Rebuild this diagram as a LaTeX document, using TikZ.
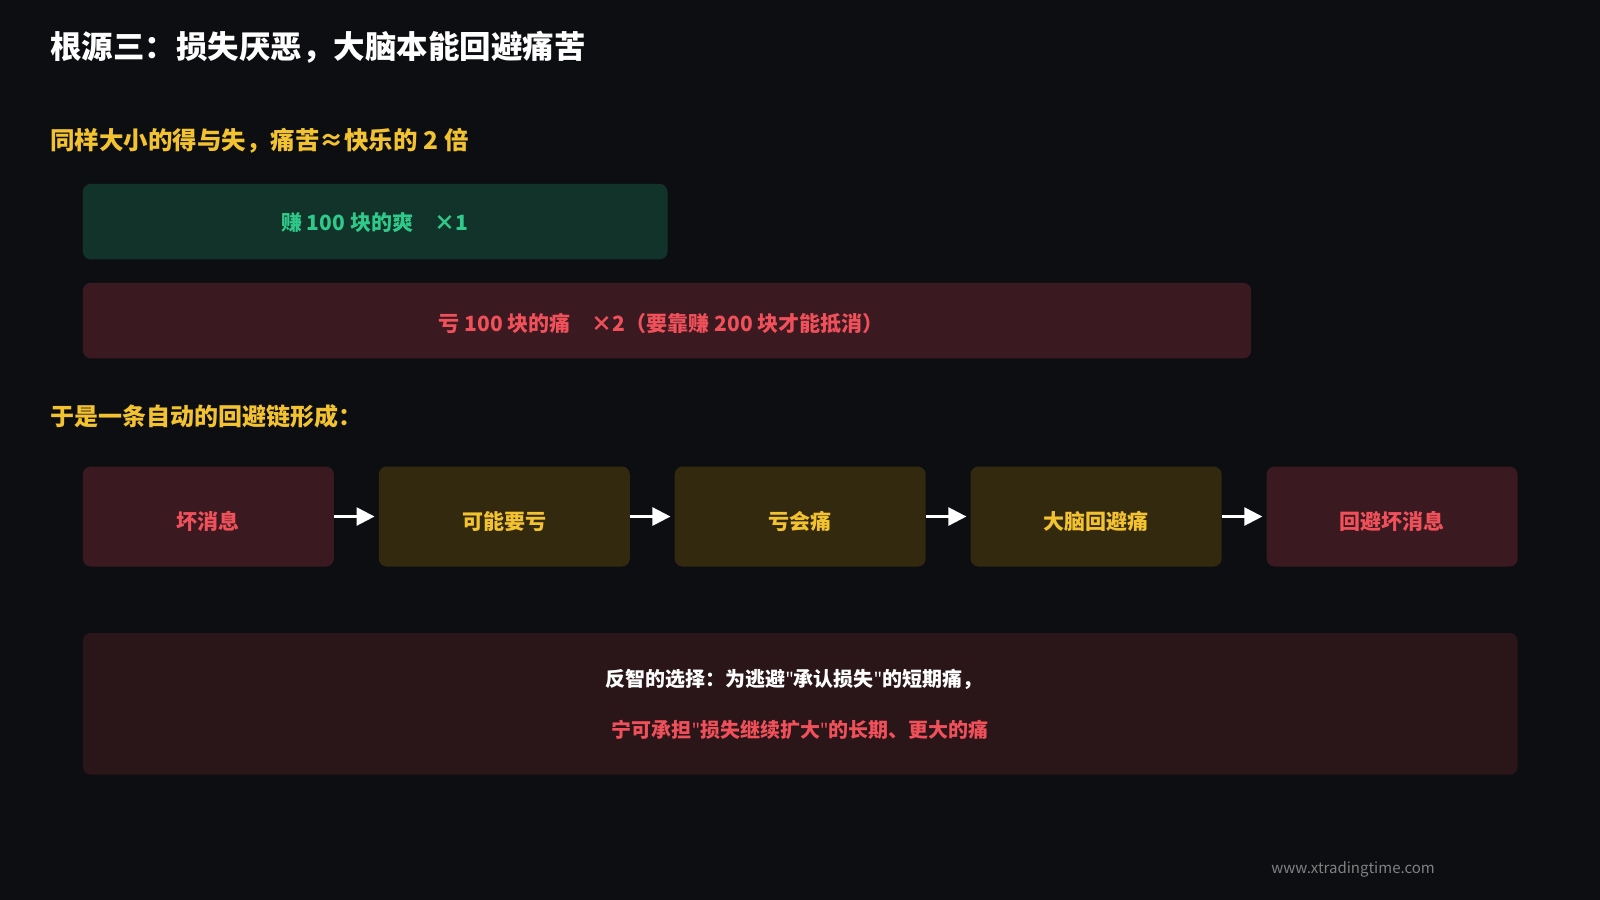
\documentclass[tikz,border=0pt]{standalone}
\usepackage{fontspec}
\setmainfont{Noto Sans CJK SC}
\newfontfamily\qf{Noto Sans}
\usetikzlibrary{arrows.meta}
\definecolor{bg}{HTML}{0D0E12}
\definecolor{gbox}{HTML}{12332A}
\definecolor{gtxt}{HTML}{2FC98A}
\definecolor{rbox}{HTML}{3A1A20}
\definecolor{rtxt}{HTML}{F0505A}
\definecolor{ybox}{HTML}{33290F}
\definecolor{ytxt}{HTML}{F2C230}
\definecolor{bbox}{HTML}{2A1518}
\newcommand{\dq}{{\qf\char"22\relax}}
\begin{document}
\begin{tikzpicture}[x=1.0204pt,y=-1.0204pt,
 box/.style={rounded corners=8pt,inner sep=0pt,anchor=north west},
 lbl/.style={font=\fontsize{21}{24}\selectfont\bfseries},
 arr/.style={draw=white,line width=2.5pt,-{Triangle[length=18pt,width=18pt]}}]
\fill[bg] (0,0) rectangle (1568,882);
\useasboundingbox (0,0) rectangle (1568,882);
\node[anchor=west,text=white,font=\fontsize{31.5}{34}\selectfont\bfseries] (title) at (46,46) {根源三：损失厌恶，大脑本能回避痛苦};
\node[anchor=west,text=ytxt,font=\fontsize{24.5}{28}\selectfont\bfseries] (sub1) at (46,138) {同样大小的得与失，痛苦≈快乐的 2 倍};
\node[box,fill=gbox,minimum width=573*1.0204pt,minimum height=74*1.0204pt] (g) at (81,180) {};
\node[lbl,text=gtxt] (gt) at (367,218) {赚 100 块的爽\quad ×1};
\node[box,fill=rbox,minimum width=1145*1.0204pt,minimum height=74*1.0204pt] (r) at (81,277) {};
\node[lbl,text=rtxt] (rt) at (648,317) {亏 100 块的痛\quad ×2（要靠赚 200 块才能抵消）};
\node[anchor=west,text=ytxt,font=\fontsize{24}{28}\selectfont\bfseries] (sub2) at (46,408) {于是一条自动的回避链形成：};
\foreach \i/\x/\c/\t/\tc in {1/81/rbox/坏消息/rtxt,2/371/ybox/可能要亏/ytxt,3/661/ybox/亏会痛/ytxt,4/951/ybox/大脑回避痛/ytxt,5/1241/rbox/回避坏消息/rtxt}{
 \node[box,fill=\c,minimum width=246*1.0204pt,minimum height=98*1.0204pt] (b\i) at (\x,457) {};
 \node[lbl,text=\tc] at ([yshift=-5pt]b\i.center) {\t};
}
\foreach \a/\b in {1/2,2/3,3/4,4/5} \draw[arr] (b\a.east) -- ([xshift=-4pt]b\b.west);
\node[box,fill=bbox,minimum width=1406*1.0204pt,minimum height=139*1.0204pt] (bot) at (81,620) {};
\node[lbl,text=white,font=\fontsize{20}{24}\selectfont\bfseries] (l1) at (778,666) {反智的选择：为逃避\dq 承认损失\dq 的短期痛，};
\node[lbl,text=rtxt,font=\fontsize{20}{24}\selectfont\bfseries] (l2) at (784,715) {宁可承担\dq 损失继续扩大\dq 的长期、更大的痛};
\node[text=gray,font=\fontsize{15}{18}\selectfont] (ft) at (1326,852) {www.xtradingtime.com};
\end{tikzpicture}
\end{document}
